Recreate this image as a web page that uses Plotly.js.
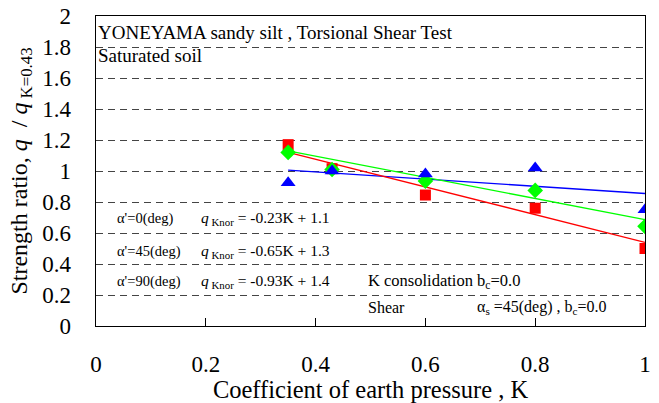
<!DOCTYPE html>
<html>
<head>
<meta charset="utf-8">
<script src="https://cdn.plot.ly/plotly-3.0.1.min.js"></script>
<style>html,body{margin:0;padding:0;background:#fff;}#chart{width:659px;height:403px;}</style>
</head>
<body>
<div id="chart"></div>
<script>
// Coefficient of earth pressure K
const kValues = [0.35, 0.43, 0.6, 0.8, 1.0];
// Strength ratio values
const alpha90 = [1.17, 1.015, 0.845, 0.76, 0.50];   // red squares
const alpha45 = [1.12, 1.01, 0.935, 0.875, 0.643];  // green diamonds
const alpha0  = [0.925, 1.0, 0.98, 1.02, 0.75];     // blue triangles
// Fitted lines (end values)
const fitK = [0.35, 1.0];
const fit90 = [1.12, 0.54];
const fit45 = [1.13, 0.686];
const fit0  = [1.006, 0.855];
const yTicks = [0, 0.2, 0.4, 0.6, 0.8, 1, 1.2, 1.4, 1.6, 1.8, 2];
const xTicks = [0, 0.2, 0.4, 0.6, 0.8, 1];

const FAM = 'Liberation Serif';

const traces = [
  {x: fitK, y: fit0, mode: 'lines', line: {color: '#0000ff', width: 1.3}, hoverinfo: 'skip'},
  {x: fitK, y: fit45, mode: 'lines', line: {color: '#00ff00', width: 1.3}, hoverinfo: 'skip'},
  {x: fitK, y: fit90, mode: 'lines', line: {color: '#ff0000', width: 1.3}, hoverinfo: 'skip'},
  {x: kValues, y: alpha90, mode: 'markers', marker: {symbol: 'square', size: 11, color: '#ff0000'}},
  {x: kValues, y: alpha45, mode: 'markers', marker: {symbol: 'diamond', size: 12, color: '#00ff00'}},
  {x: kValues, y: alpha0, mode: 'markers', marker: {symbol: 'triangle-up', size: 13, color: '#0000ff'}}
];

function ann(x, y, text, size) {
  return {x: x, y: y, xref: 'x', yref: 'y', text: text, showarrow: false,
          xanchor: 'left', yanchor: 'middle', borderpad: 0,
          font: {family: FAM, size: size, color: '#000'}};
}

const annotations = [
  ann(0.002, 1.894, 'YONEYAMA sandy silt , Torsional Shear Test', 19),
  ann(0.002, 1.745, 'Saturated soil', 19),
  ann(0.036, 0.693, "α'=0(deg)", 14.5),
  ann(0.036, 0.48, "α'=45(deg)", 14.5),
  ann(0.036, 0.286, "α'=90(deg)", 14.5),
  ann(0.19, 0.693, '<i>q</i><sub> Knor</sub> = -0.23K + 1.1', 15.5),
  ann(0.19, 0.48, '<i>q</i><sub> Knor</sub> = -0.65K + 1.3', 15.5),
  ann(0.19, 0.286, '<i>q</i><sub> Knor</sub> = -0.93K + 1.4', 15.5),
  ann(0.494, 0.29, 'K consolidation b<sub>c</sub>=0.0', 16.5),
  ann(0.494, 0.12, 'Shear', 16),
  ann(0.692, 0.12, 'α<sub>s</sub> =45(deg) , b<sub>c</sub>=0.0', 16)
];

const layout = {
  width: 659, height: 403,
  margin: {l: 96, r: 14, t: 16, b: 77},
  paper_bgcolor: '#fff', plot_bgcolor: '#fff',
  showlegend: false,
  font: {family: FAM, color: '#000'},
  xaxis: {
    range: [0, 1], tickvals: xTicks, ticktext: xTicks.map(String),
    showgrid: false, zeroline: false,
    showline: true, linecolor: '#000', linewidth: 1.3, mirror: true,
    ticks: 'inside', ticklen: 8, tickcolor: '#000', tickwidth: 1,
    ticklabelstandoff: 17,
    tickfont: {family: FAM, size: 23},
    title: {text: 'Coefficient of earth pressure , K', font: {family: FAM, size: 24.5}, standoff: 1}
  },
  yaxis: {
    range: [0, 2], tickvals: yTicks, ticktext: yTicks.map(String),
    showgrid: true, gridcolor: '#444', griddash: '7px,5px', gridwidth: 1,
    zeroline: false,
    showline: true, linecolor: '#000', linewidth: 1.3, mirror: true,
    ticks: '', ticklabelstandoff: 19,
    tickfont: {family: FAM, size: 23},
    title: {text: 'Strength ratio, <i>q</i>  / <i>q</i><sub> K=0.43</sub>', font: {family: FAM, size: 24}, standoff: 8}
  },
  annotations: annotations
};

Plotly.newPlot('chart', traces, layout, {displayModeBar: false, staticPlot: true});
</script>
</body>
</html>
